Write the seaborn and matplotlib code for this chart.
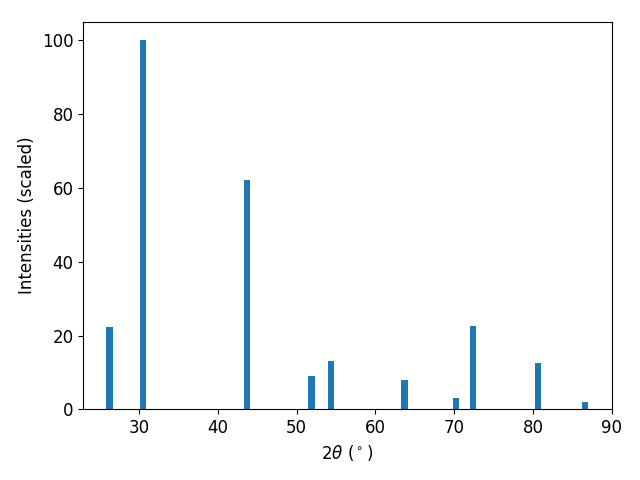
import matplotlib
matplotlib.use("Agg")
import matplotlib.pyplot as plt
import numpy as np
import pandas as pd
import seaborn as sns

# peak positions (2theta, degrees) and scaled intensities
two_theta = [26.24, 30.47, 43.72, 51.86, 54.36, 63.70, 70.24, 72.40, 80.60, 86.63]
intensity = [22.2, 100.0, 62.0, 9.1, 13.2, 8.1, 3.0, 22.5, 12.7, 1.9]

plt.rcParams['font.size'] = 12

df = pd.DataFrame({'two_theta': two_theta, 'intensity': intensity})

fig, ax = plt.subplots(figsize=(6.4, 4.8), dpi=100)

# native_scale width is relative to the smallest peak spacing
min_gap = np.min(np.diff(np.sort(df['two_theta'].unique())))
sns.barplot(data=df, x='two_theta', y='intensity', native_scale=True,
            width=0.8 / min_gap, color='#1f77b4', saturation=1,
            errorbar=None, ax=ax)

ax.set_xlim(22.9, 90)
ax.set_ylim(0, 105)
ax.set_xlabel(r'$2\theta$ ($^\circ$)')
ax.set_ylabel('Intensities (scaled)')

fig.subplots_adjust(left=0.130, right=0.956, top=0.955, bottom=0.147)
plt.savefig('out.png', dpi=100)
